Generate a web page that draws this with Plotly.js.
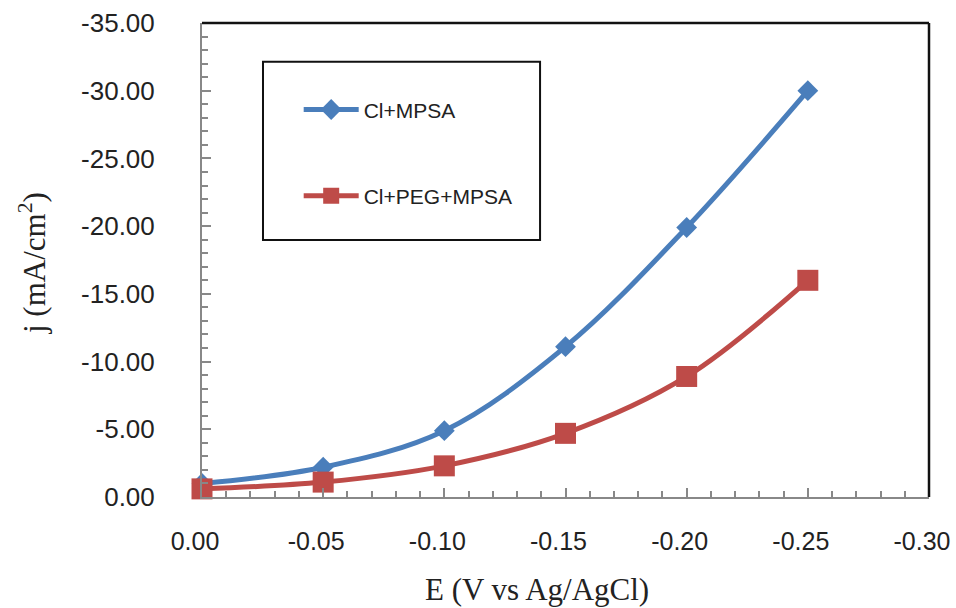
<!DOCTYPE html>
<html>
<head>
<meta charset="utf-8">
<script src="https://cdn.plot.ly/plotly-3.0.1.min.js"></script>
<style>
  html, body { margin: 0; padding: 0; background: #fff; }
  #chart { width: 956px; height: 608px; }
</style>
</head>
<body>
<div id="chart"></div>
<script>
// Potential (V vs Ag/AgCl) and current density (mA/cm2)
const potential = [0.00, -0.05, -0.10, -0.15, -0.20, -0.25];
const jClMPSA = [-1.0, -2.2, -4.9, -11.1, -19.9, -30.0];
const jClPEGMPSA = [-0.6, -1.1, -2.3, -4.7, -8.9, -16.0];

const xTickVals = [0, -0.05, -0.10, -0.15, -0.20, -0.25, -0.30];
const xTickText = ['0.00', '-0.05', '-0.10', '-0.15', '-0.20', '-0.25', '-0.30'];
const yTickVals = [0, -5, -10, -15, -20, -25, -30, -35];
const yTickText = ['0.00', '-5.00', '-10.00', '-15.00', '-20.00', '-25.00', '-30.00', '-35.00'];

const seriesNames = ['Cl+MPSA', 'Cl+PEG+MPSA'];
const BLUE = '#4A7EBB';
const RED = '#BE4B48';

const traces = [
  {
    x: potential, y: jClMPSA, name: seriesNames[0], legendgroup: 'a',
    type: 'scatter', mode: 'lines+markers', cliponaxis: false,
    line: { color: BLUE, width: 5, shape: 'spline', smoothing: 1 },
    marker: { symbol: 'diamond', size: 16, color: BLUE }
  },
  {
    x: potential, y: jClPEGMPSA, name: seriesNames[1], legendgroup: 'b',
    type: 'scatter', mode: 'lines+markers', cliponaxis: false,
    line: { color: RED, width: 5, shape: 'spline', smoothing: 1 },
    marker: { symbol: 'square', size: 21, color: RED }
  }
];

const yTickFont = { family: 'Liberation Sans, Arial, sans-serif', size: 26, color: '#222' };
const xTickFont = { family: 'Liberation Sans, Arial, sans-serif', size: 25, color: '#222' };
const titleFont = { family: 'Liberation Serif, Times New Roman, serif', size: 31, color: '#222' };

const layout = {
  width: 956, height: 608,
  paper_bgcolor: '#fff', plot_bgcolor: '#fff',
  margin: { l: 202, r: 27, t: 23, b: 111 },
  showlegend: true,
  legend: {
    x: 0.133, y: 0.86, xanchor: 'left', yanchor: 'top',
    bgcolor: 'rgba(0,0,0,0)', borderwidth: 0,
    traceorder: 'grouped', tracegroupgap: 56,
    itemwidth: 55,
    font: { family: 'Liberation Sans, Arial, sans-serif', size: 21, color: '#222' }
  },
  xaxis: {
    range: [0, -0.30], autorange: false,
    tickmode: 'array', tickvals: xTickVals, ticktext: xTickText,
    ticks: 'inside', ticklen: 9, tickwidth: 2, tickcolor: '#888',
    minor: { dtick: 0.01, tick0: 0, ticks: 'inside', ticklen: 6, tickwidth: 2, tickcolor: '#888' },
    showline: true, linecolor: '#888', linewidth: 2,
    showgrid: false, zeroline: false,
    tickfont: xTickFont, ticklabelstandoff: 21, ticklabelshift: 7,
    ticklabeloverflow: 'allow'
  },
  yaxis: {
    range: [0, -35], autorange: false,
    tickmode: 'array', tickvals: yTickVals, ticktext: yTickText,
    ticks: 'inside', ticklen: 9, tickwidth: 2, tickcolor: '#888',
    minor: { dtick: 1, tick0: 0, ticks: 'inside', ticklen: 6, tickwidth: 2, tickcolor: '#888' },
    showline: true, linecolor: '#888', linewidth: 2,
    showgrid: false, zeroline: false,
    tickfont: yTickFont, ticklabelstandoff: 40
  },
  shapes: [
    // black frame on the top and right of the plot area
    { type: 'line', xref: 'paper', yref: 'paper', x0: 0, x1: 1, y0: 1, y1: 1, line: { color: '#111', width: 2.5 } },
    { type: 'line', xref: 'paper', yref: 'paper', x0: 1, x1: 1, y0: 0, y1: 1, line: { color: '#111', width: 2.5 } },
    // legend frame
    { type: 'rect', xref: 'paper', yref: 'paper', x0: 0.0839, x1: 0.465, y0: 0.542, y1: 0.918, line: { color: '#111', width: 2 }, fillcolor: 'rgba(0,0,0,0)', layer: 'below' }
  ],
  annotations: [
    { text: 'E (V vs Ag/AgCl)', xref: 'paper', yref: 'paper', x: 0, y: 0, xanchor: 'center', yanchor: 'middle',
      showarrow: false, font: titleFont },
    { text: 'j (mA/cm<sup>2</sup>)', xref: 'paper', yref: 'paper', x: 0, y: 0, textangle: -90,
      xanchor: 'center', yanchor: 'middle', showarrow: false, font: titleFont }
  ]
};
// place the axis titles in pixels relative to the plot area (202..929 x 23..497)
layout.annotations[0].x = (537 - 202) / 727;
layout.annotations[0].y = -(589 - 497) / 474;
layout.annotations[1].x = -(202 - 32) / 727;
layout.annotations[1].y = (497 - 263) / 474;

Plotly.newPlot('chart', traces, layout, { displayModeBar: false, staticPlot: true });
</script>
</body>
</html>
